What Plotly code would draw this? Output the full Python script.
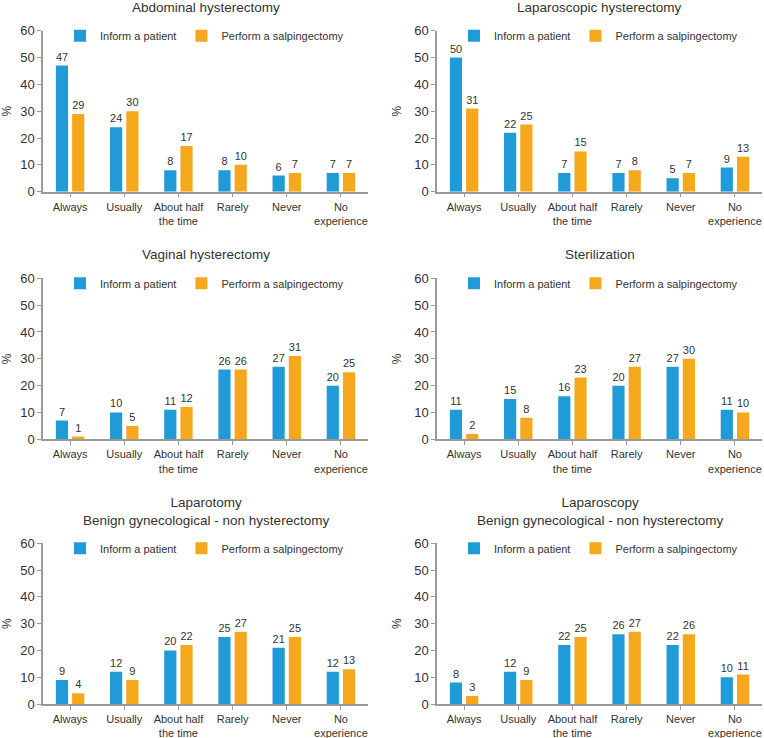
import plotly.graph_objects as go

categories = ["Always", "Usually", "About half<br>the time", "Rarely", "Never", "No<br>experience"]
series_names = ["Inform a patient", "Perform a salpingectomy"]

titles = [
    "Abdominal hysterectomy",
    "Laparoscopic hysterectomy",
    "Vaginal hysterectomy",
    "Sterilization",
    "Laparotomy<br>Benign gynecological - non hysterectomy",
    "Laparoscopy<br>Benign gynecological - non hysterectomy",
]

abdominal_inform = [47, 24, 8, 8, 6, 7]
abdominal_perform = [29, 30, 17, 10, 7, 7]
laparoscopic_inform = [50, 22, 7, 7, 5, 9]
laparoscopic_perform = [31, 25, 15, 8, 7, 13]
vaginal_inform = [7, 10, 11, 26, 27, 20]
vaginal_perform = [1, 5, 12, 26, 31, 25]
sterilization_inform = [11, 15, 16, 20, 27, 11]
sterilization_perform = [2, 8, 23, 27, 30, 10]
laparotomy_inform = [9, 12, 20, 25, 21, 12]
laparotomy_perform = [4, 9, 22, 27, 25, 13]
laparoscopy_inform = [8, 12, 22, 26, 22, 10]
laparoscopy_perform = [3, 9, 25, 27, 26, 11]

y_ticks = [0, 10, 20, 30, 40, 50, 60]

panels = [
    (abdominal_inform, abdominal_perform),
    (laparoscopic_inform, laparoscopic_perform),
    (vaginal_inform, vaginal_perform),
    (sterilization_inform, sterilization_perform),
    (laparotomy_inform, laparotomy_perform),
    (laparoscopy_inform, laparoscopy_perform),
]

BLUE = "#219bd8"
ORANGE = "#f6a81c"
AXIS = "#9a9a9a"
TXT = "#333333"
FONT = "Liberation Sans"
W, H = 764, 738

# pixel layout of plot areas
x_px = [(43, 368), (437, 762)]
y_px = [(30.7, 191.7), (278.3, 439.3), (543.3, 704.0)]
title_y_px = [8, 8, 255, 255, 511, 511]

fig = go.Figure()
annotations = []
layout_axes = {}

for i, (inf, perf) in enumerate(panels):
    r, c = divmod(i, 2)
    n = i + 1
    xa = "x" if n == 1 else f"x{n}"
    ya = "y" if n == 1 else f"y{n}"
    lg = "legend" if n == 1 else f"legend{n}"
    for vals, name, col in ((inf, series_names[0], BLUE), (perf, series_names[1], ORANGE)):
        fig.add_trace(go.Bar(
            x=categories, y=vals, name=name, marker_color=col, marker_line_width=0,
            text=[str(v) for v in vals], textposition="outside", cliponaxis=False,
            textfont=dict(size=11, color=TXT, family=FONT),
            xaxis=xa, yaxis=ya, legend=lg, showlegend=True,
        ))
    x0, x1 = x_px[c]
    yt, yb = y_px[r]
    xd = [x0 / W, x1 / W]
    yd = [1 - yb / H, 1 - yt / H]
    xkey = "xaxis" if n == 1 else f"xaxis{n}"
    ykey = "yaxis" if n == 1 else f"yaxis{n}"
    layout_axes[xkey] = dict(
        domain=xd, anchor=ya, showline=True, linecolor=AXIS, linewidth=1.5,
        ticks="outside", ticklen=4, tickcolor=AXIS, showgrid=False, automargin=False,
        tickfont=dict(size=11, color=TXT, family=FONT), fixedrange=True,
    )
    layout_axes[ykey] = dict(
        domain=yd, anchor=xa, range=[0, 60], tickvals=y_ticks,
        showline=True, linecolor=AXIS, linewidth=1.5, automargin=False,
        ticks="outside", ticklen=4, tickcolor=AXIS, showgrid=False, zeroline=False,
        tickfont=dict(size=13, color=TXT, family=FONT), fixedrange=True,
        title=dict(text="%", font=dict(size=12, color=TXT, family=FONT), standoff=10),
    )
    layout_axes[lg] = dict(
        orientation="h", x=(x0 + 17) / W, y=1 - (yt + 5) / H, xanchor="left", yanchor="middle",
        font=dict(size=11, color=TXT, family=FONT), bgcolor="rgba(0,0,0,0)",
        itemwidth=30, tracegroupgap=0,
    )
    annotations.append(dict(
        text=titles[i], x=(x0 + x1) / 2 / W, y=1 - title_y_px[i] / H, xref="paper", yref="paper",
        showarrow=False, xanchor="center", yanchor="middle",
        font=dict(size=13.5, color=TXT, family=FONT), align="center",
    ))

fig.update_layout(
    width=W, height=H, margin=dict(l=0, r=0, t=0, b=0, autoexpand=False),
    paper_bgcolor="white", plot_bgcolor="white",
    barmode="group", bargap=0.4, bargroupgap=0.25,
    annotations=annotations, font=dict(family=FONT, color=TXT),
    **layout_axes,
)

fig.write_html(
    "out.html",
    config={"displayModeBar": False},
    post_script="document.body.style.margin='0';document.body.style.overflow='hidden';",
)
